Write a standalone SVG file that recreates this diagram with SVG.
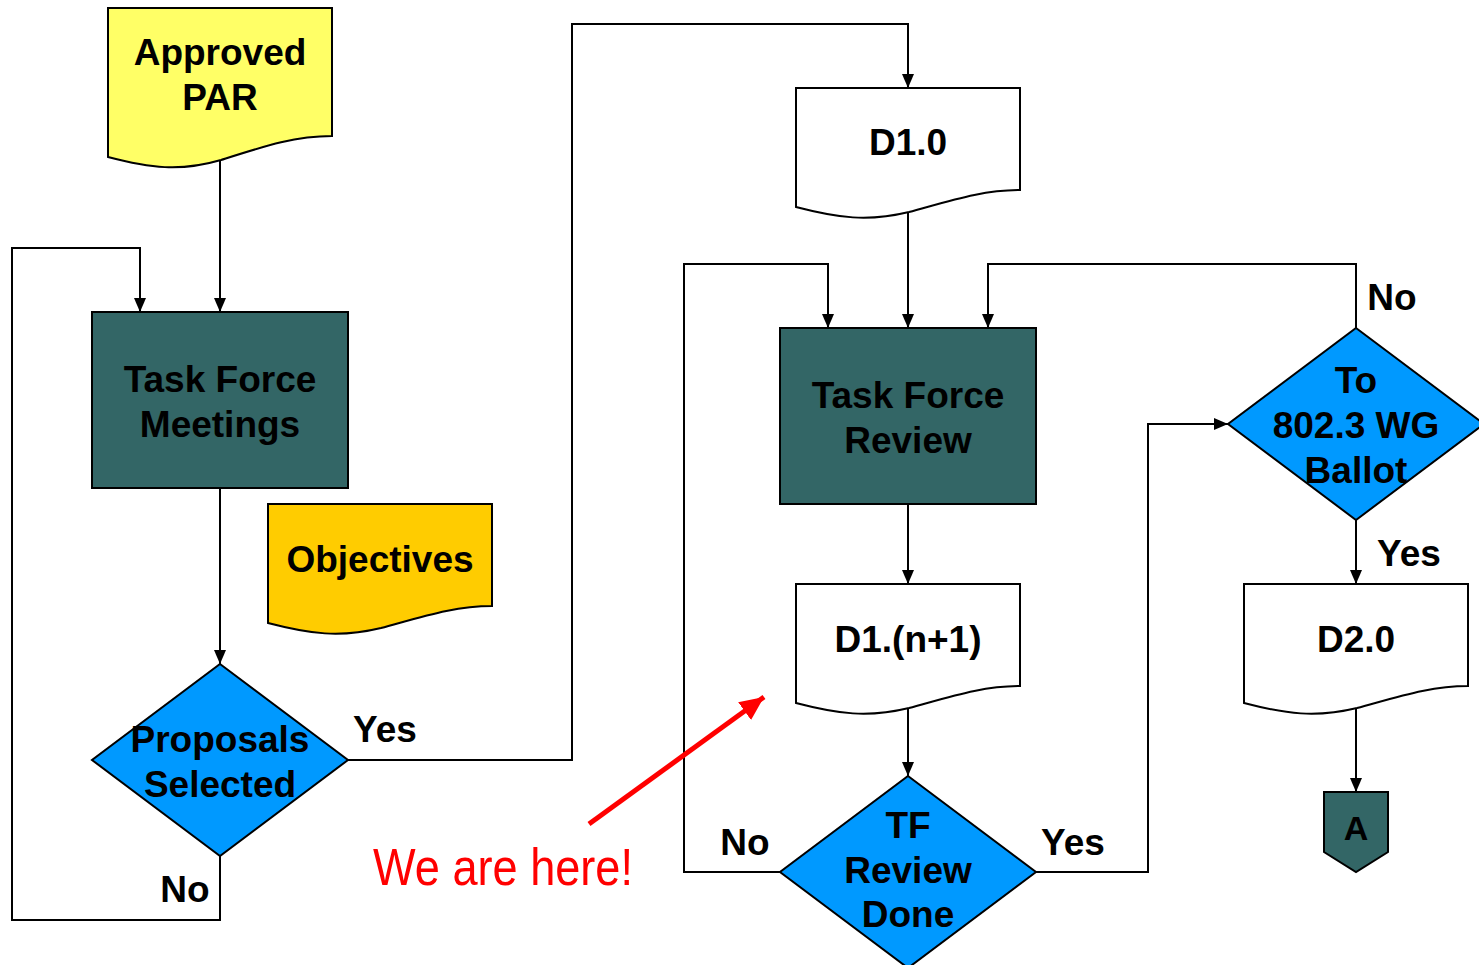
<svg xmlns="http://www.w3.org/2000/svg" width="1479" height="965" viewBox="0 0 1479 965">
<style>
.s{stroke:#000;stroke-width:2}
.t{font-family:"Liberation Sans",Arial,sans-serif;font-weight:bold;font-size:37px;fill:#000;text-anchor:middle}
.l{font-family:"Liberation Sans",Arial,sans-serif;font-weight:bold;font-size:37px;fill:#000;text-anchor:middle}
.c{fill:none;stroke:#000;stroke-width:2}
.teal{fill:#336666}
.blue{fill:#0099FF}
.white{fill:#FFFFFF}
</style>
<defs>
<marker id="ah" markerWidth="14" markerHeight="14" refX="14" refY="7" orient="auto" markerUnits="userSpaceOnUse">
<path d="M0,1 L14,7 L0,13 Z" fill="#000"/>
</marker>
<marker id="rh" markerWidth="26" markerHeight="22" refX="24" refY="11" orient="auto" markerUnits="userSpaceOnUse">
<path d="M0,0 L24,11 L0,22 Z" fill="#FF0000"/>
</marker>
</defs>
<rect width="1479" height="965" fill="#fff"/>
<g id="connectors">
<path class="c" d="M220,160 V312" marker-end="url(#ah)"/>
<path class="c" d="M220,488 V664" marker-end="url(#ah)"/>
<path class="c" d="M220,856 V920 H12 V248 H140 V312" marker-end="url(#ah)"/>
<path class="c" d="M348,760 H572 V24 H908 V88" marker-end="url(#ah)"/>
<path class="c" d="M908,212 V328" marker-end="url(#ah)"/>
<path class="c" d="M908,504 V584" marker-end="url(#ah)"/>
<path class="c" d="M908,708 V776" marker-end="url(#ah)"/>
<path class="c" d="M780,872 H684 V264 H828 V328" marker-end="url(#ah)"/>
<path class="c" d="M1036,872 H1148 V424 H1228" marker-end="url(#ah)"/>
<path class="c" d="M1356,328 V264 H988 V328" marker-end="url(#ah)"/>
<path class="c" d="M1356,520 V584" marker-end="url(#ah)"/>
<path class="c" d="M1356,708 V792" marker-end="url(#ah)"/>
</g>
<g id="approved-par">
<path class="s" fill="#FFFF66" d="M108,8 H332 V136 C295,136 265,146 221,160 C180,172 150,168 108,157 Z"/>
<text class="t" x="220" y="65">Approved</text>
<text class="t" x="220" y="110">PAR</text>
</g>
<g id="task-force-meetings">
<rect class="s teal" x="92" y="312" width="256" height="176"/>
<text class="t" x="220" y="392">Task Force</text>
<text class="t" x="220" y="437">Meetings</text>
</g>
<g id="objectives">
<path class="s" fill="#FFCC00" d="M268,504 H492 V606 C455,606 425,616 381,628 C340,638 310,634 268,623 Z"/>
<text class="t" x="380" y="572">Objectives</text>
</g>
<g id="proposals-selected">
<path class="s blue" d="M220,664 L348,760 L220,856 L92,760 Z"/>
<text class="t" x="220" y="752">Proposals</text>
<text class="t" x="220" y="797">Selected</text>
</g>
<g id="d1-0">
<path class="s white" d="M796,88 H1020 V190 C983,190 953,200 909,212 C868,222 838,218 796,207 Z"/>
<text class="t" x="908" y="155">D1.0</text>
</g>
<g id="task-force-review">
<rect class="s teal" x="780" y="328" width="256" height="176"/>
<text class="t" x="908" y="408">Task Force</text>
<text class="t" x="908" y="453">Review</text>
</g>
<g id="d1-n1">
<path class="s white" d="M796,584 H1020 V686 C983,686 953,696 909,708 C868,718 838,714 796,703 Z"/>
<text class="t" x="908" y="652">D1.(n+1)</text>
</g>
<g id="tf-review-done">
<path class="s blue" d="M908,776 L1036,872 L908,968 L780,872 Z"/>
<text class="t" x="908" y="838">TF</text>
<text class="t" x="908" y="883">Review</text>
<text class="t" x="908" y="927">Done</text>
</g>
<g id="wg-ballot">
<path class="s blue" d="M1356,328 L1484,424 L1356,520 L1228,424 Z"/>
<text class="t" x="1356" y="393">To</text>
<text class="t" x="1356" y="438">802.3 WG</text>
<text class="t" x="1356" y="483">Ballot</text>
</g>
<g id="d2-0">
<path class="s white" d="M1244,584 H1468 V686 C1431,686 1401,696 1357,708 C1316,718 1286,714 1244,703 Z"/>
<text class="t" x="1356" y="652">D2.0</text>
</g>
<g id="connector-a">
<path class="s teal" d="M1324,792 H1388 V852 L1356,872 L1324,852 Z"/>
<text class="t" x="1356" y="840" style="font-size:34px">A</text>
</g>
<g id="labels">
<text class="l" x="385" y="742">Yes</text>
<text class="l" x="185" y="902">No</text>
<text class="l" x="745" y="855">No</text>
<text class="l" x="1073" y="855">Yes</text>
<text class="l" x="1392" y="310">No</text>
<text class="l" x="1409" y="566">Yes</text>
</g>
<g id="annotation">
<path d="M589,824 L764,697" stroke="#FF0000" stroke-width="5" fill="none" marker-end="url(#rh)"/>
<text x="373" y="885" textLength="260" lengthAdjust="spacingAndGlyphs" style="font-family:'Liberation Sans Narrow','Liberation Sans',Arial,sans-serif;font-size:52px;fill:#FF0000">We are here!</text>
</g>
</svg>
